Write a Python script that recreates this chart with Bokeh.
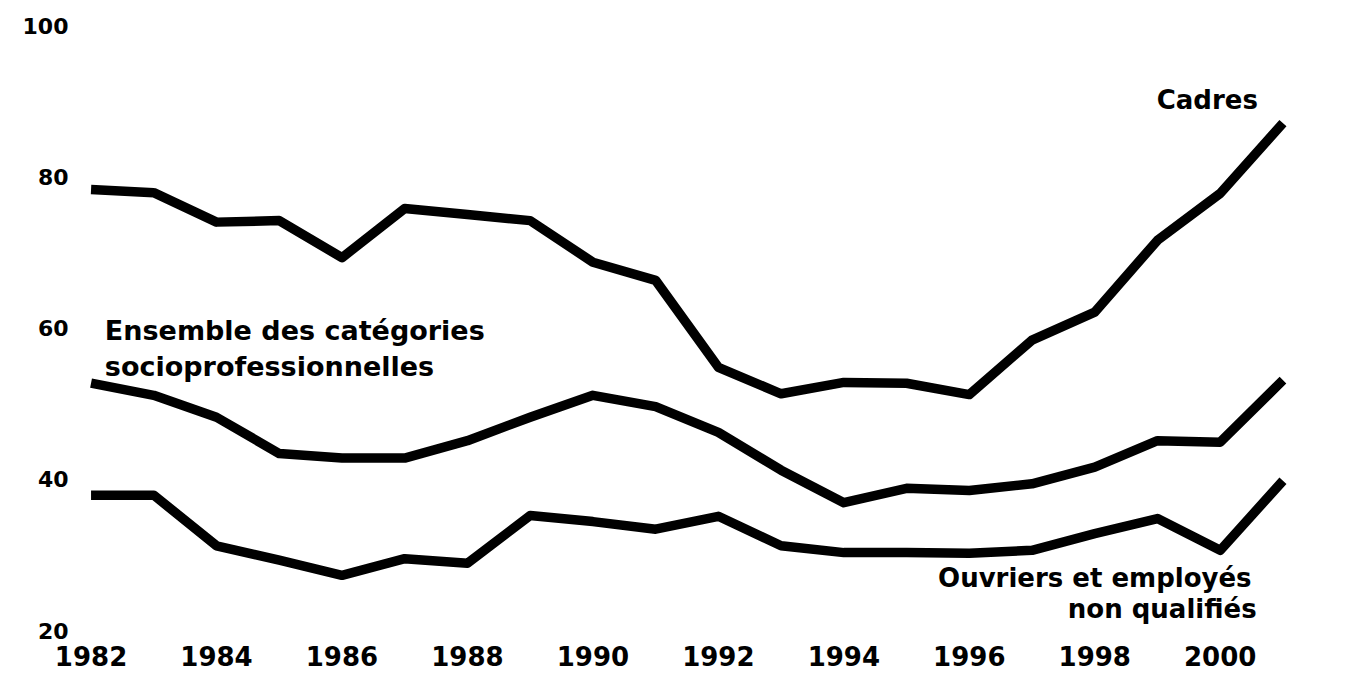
from bokeh.plotting import figure
from bokeh.models import Range1d, Label, FixedTicker
from bokeh.embed import file_html
from bokeh.resources import INLINE

years = list(range(1982, 2002))
cadres = [78.3, 77.9, 74.0, 74.2, 69.3, 75.8, 75.0, 74.2, 68.7, 66.3,
          54.8, 51.3, 52.8, 52.7, 51.2, 58.4, 62.1, 71.6, 77.8, 87.1]
ensemble = [52.7, 51.1, 48.2, 43.4, 42.8, 42.8, 45.1, 48.2, 51.1, 49.6,
            46.2, 41.2, 36.9, 38.8, 38.5, 39.4, 41.6, 45.1, 44.9, 53.1]
ouvriers = [37.9, 37.9, 31.2, 29.3, 27.3, 29.5, 28.9, 35.2, 34.4, 33.4,
            35.1, 31.2, 30.3, 30.3, 30.2, 30.6, 32.8, 34.8, 30.6, 39.8]
x_ticks = [1982, 1984, 1986, 1988, 1990, 1992, 1994, 1996, 1998, 2000]
y_ticks = [20, 40, 60, 80, 100]

FONT = "DejaVu Sans"

p = figure(width=1340, height=676, output_backend="svg", toolbar_location=None,
           x_range=Range1d(1981.8, 2001.2), y_range=Range1d(20, 100),
           min_border_left=78, min_border_right=45, min_border_top=25,
           min_border_bottom=46)
p.outline_line_color = None
p.xgrid.grid_line_color = None
p.ygrid.grid_line_color = None
p.background_fill_color = "white"
p.border_fill_color = "white"

for ax in (p.xaxis[0], p.yaxis[0]):
    ax.axis_line_color = None
    ax.major_tick_line_color = None
    ax.minor_tick_line_color = None
    ax.major_tick_out = 0
    ax.major_tick_in = 0
    ax.major_label_text_font = FONT
    ax.major_label_text_font_style = "bold"
    ax.major_label_text_color = "black"

p.xaxis.ticker = FixedTicker(ticks=x_ticks)
p.yaxis.ticker = FixedTicker(ticks=y_ticks)
p.xaxis.major_label_text_font_size = "26px"
p.yaxis.major_label_text_font_size = "22px"
p.xaxis.major_label_standoff = 15
p.yaxis.major_label_standoff = 10

for series in (cadres, ensemble, ouvriers):
    p.line(years, series, line_color="black", line_width=9.5, line_join="round")

def lab(x, y, text, align, size="26px"):
    p.add_layout(Label(x=x, y=y, text=text, text_align=align, text_baseline="middle",
                       text_font=FONT, text_font_style="bold", text_font_size=size,
                       text_color="black"))

lab(2000.6, 90.1, "Cadres", "right")
lab(1982.22, 59.7, "Ensemble des catégories", "left", "27px")
lab(1982.22, 54.9, "socioprofessionnelles", "left", "27px")
lab(2000.5, 26.9, "Ouvriers et employés", "right")
lab(2000.58, 22.9, "non qualifiés", "right")

open("out.html", "w").write(file_html(p, INLINE))
